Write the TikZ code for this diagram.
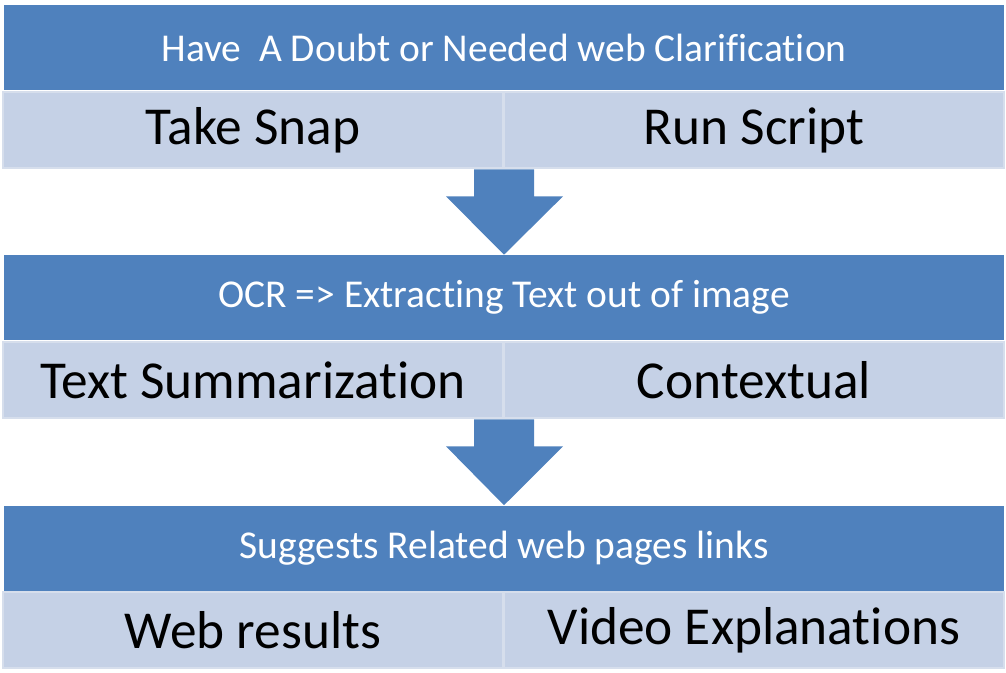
\documentclass[tikz,border=0pt]{standalone}
\usepackage{fontspec}
\setmainfont[Ligatures=NoCommon]{Carlito}
\usetikzlibrary{positioning,calc}
\definecolor{hdrblue}{HTML}{4F81BD}
\definecolor{cellblue}{HTML}{C5D1E6}
\definecolor{cellrim}{HTML}{D6DEEC}
\tikzset{
  hdr/.style={fill=hdrblue,text=white,minimum width=750pt,minimum height=63.75pt,
    inner sep=0pt,font=\fontsize{29.6}{34}\selectfont},
  cell/.style={fill=cellblue,draw=cellrim,line width=1.5pt,minimum width=375pt,
    minimum height=57.5pt,inner sep=0pt,font=\fontsize{40}{46}\selectfont}
}
\newcommand{\bigarrow}[2]{%
  \fill[hdrblue] ($(#1)+(-30,0)$) -- ($(#1)+(30,0)$) -- ($(#1)+(30,27)$)
    -- ($(#1)+(59,27)$) -- (#2.north) -- ($(#1)+(-58,27)$)
    -- ($(#1)+(-30,27)$) -- cycle;}

\begin{document}
\begin{tikzpicture}[x=0.75pt,y=-0.75pt]
	\useasboundingbox (0,0) rectangle (1006,673);
	% first block
	\node[hdr] (hdr1) at (504,47.5) {Have\ \ A Doubt or Needed web Clarification};
	\node[cell] (snap) at (253,130) {Take Snap};
	\node[cell] (script) at (754,130) {Run Script};
	% second block
	\node[hdr] (hdr2) at (504,297.5) {OCR => Extracting Text out of image};
	\node[cell] (summ) at (253,380) {Text Summarization};
	\node[cell] (context) at (754,380) {Contextual};
	% third block
	\node[hdr] (hdr3) at (504,548) {Suggests Related web pages links};
	\node[cell] (web) at (253,630) {Web results};
	\node[cell] (video) at (754,630) {Video Explanations};
	% arrows
	\bigarrow{snap.south east}{hdr2}
	\bigarrow{summ.south east}{hdr3}
\end{tikzpicture}
\end{document}
